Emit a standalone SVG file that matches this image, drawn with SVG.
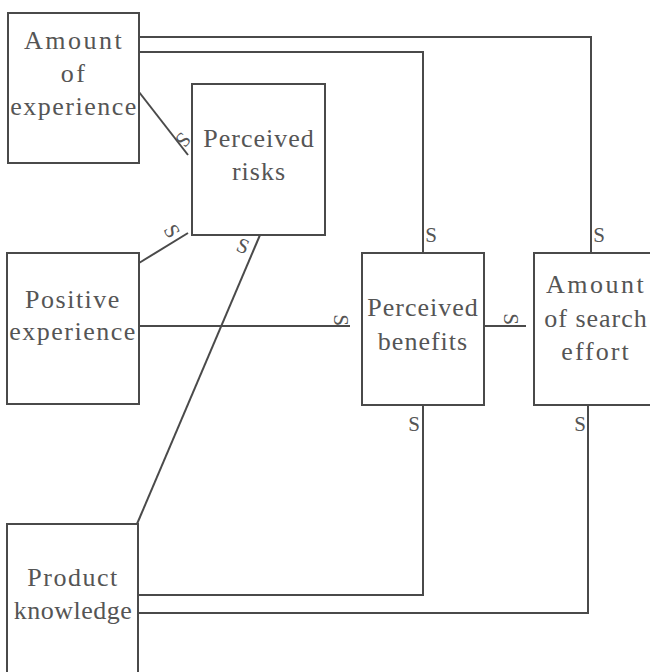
<svg xmlns="http://www.w3.org/2000/svg" width="650" height="672" viewBox="0 0 650 672">
<style>
.box{fill:none;stroke:#4a4a4a;stroke-width:2}
.ln{fill:none;stroke:#4a4a4a;stroke-width:2}
.t{font-family:"Liberation Serif","Times New Roman",serif;font-size:26px;fill:#555;text-anchor:middle}
.s{font-family:"Liberation Serif","Times New Roman",serif;font-size:21px;fill:#555;text-anchor:middle}
</style>
<rect width="650" height="672" fill="#fff"/>
<g id="connectors">
<polyline class="ln" points="139,37 591,37 591,253"/>
<polyline class="ln" points="139,52 423,52 423,253"/>
<line class="ln" x1="139" y1="92" x2="188" y2="155"/>
<line class="ln" x1="139" y1="263" x2="188" y2="233"/>
<line class="ln" x1="260" y1="235" x2="137" y2="524"/>
<line class="ln" x1="139" y1="326" x2="350" y2="326"/>
<line class="ln" x1="484" y1="326" x2="526" y2="326"/>
<polyline class="ln" points="423,405 423,595 139,595"/>
<polyline class="ln" points="588,405 588,613 139,613"/>
<text class="s" transform="translate(183,140) rotate(130)" dy="7">S</text>
<text class="s" transform="translate(172,231) rotate(60)" dy="7">S</text>
<text class="s" transform="translate(243,246) rotate(22)" dy="7">S</text>
<text class="s" transform="translate(341,320) rotate(90)" dy="7">S</text>
<text class="s" transform="translate(511,319) rotate(90)" dy="7">S</text>
<text class="s" x="431" y="242">S</text>
<text class="s" x="599" y="242">S</text>
<text class="s" x="414" y="431">S</text>
<text class="s" x="580" y="431">S</text>
</g>
<g id="amount-of-experience">
<rect class="box" x="8" y="13" width="131" height="150"/>
<text class="t" x="74" y="49" letter-spacing="2.5">Amount</text>
<text class="t" x="74" y="82" letter-spacing="2.5">of</text>
<text class="t" x="74" y="115" letter-spacing="1.5">experience</text>
</g>
<g id="perceived-risks">
<rect class="box" x="192" y="84" width="133" height="151"/>
<text class="t" x="259" y="147" letter-spacing="1">Perceived</text>
<text class="t" x="259" y="180" letter-spacing="1">risks</text>
</g>
<g id="positive-experience">
<rect class="box" x="7" y="253" width="132" height="151"/>
<text class="t" x="73" y="308" letter-spacing="1.5">Positive</text>
<text class="t" x="73" y="340" letter-spacing="1.5">experience</text>
</g>
<g id="perceived-benefits">
<rect class="box" x="362" y="253" width="122" height="152"/>
<text class="t" x="423" y="316" letter-spacing="1">Perceived</text>
<text class="t" x="423" y="350" letter-spacing="1">benefits</text>
</g>
<g id="amount-of-search-effort">
<rect class="box" x="534" y="253" width="122" height="152"/>
<text class="t" x="596" y="293" letter-spacing="2.5">Amount</text>
<text class="t" x="596" y="327" letter-spacing="1">of  search</text>
<text class="t" x="596" y="360" letter-spacing="2">effort</text>
</g>
<g id="product-knowledge">
<rect class="box" x="7" y="524" width="131" height="160"/>
<text class="t" x="73" y="586" letter-spacing="1.5">Product</text>
<text class="t" x="73" y="619" letter-spacing="0.5">knowledge</text>
</g>
</svg>
